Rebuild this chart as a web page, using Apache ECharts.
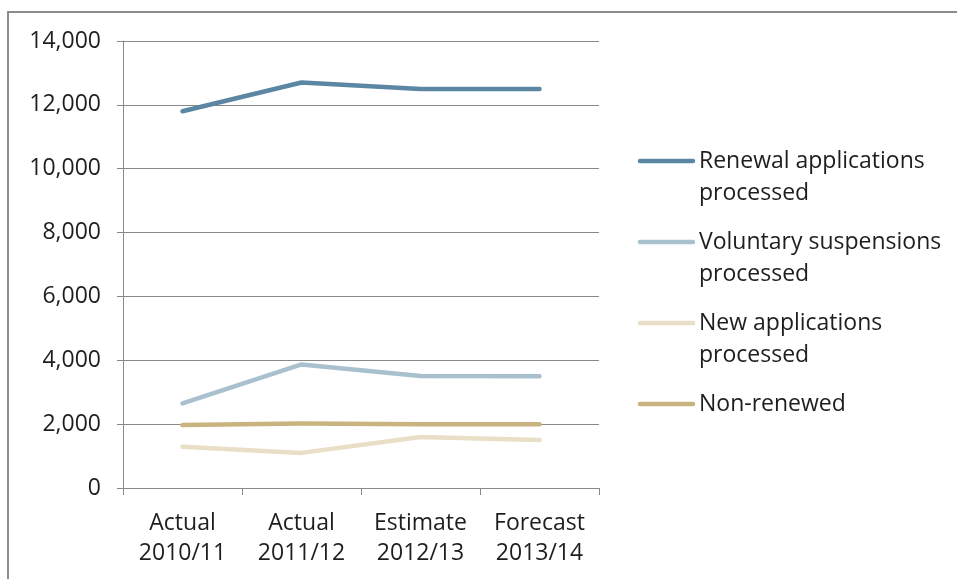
<!DOCTYPE html>
<html>
<head>
<meta charset="utf-8">
<script src="https://cdn.jsdelivr.net/npm/echarts@6/dist/echarts.min.js"></script>
<style>
  html, body { margin: 0; padding: 0; background: #ffffff; }
  #chart { width: 957px; height: 579px; }
</style>
</head>
<body>
<div id="chart"></div>
<script>
// Category labels (two lines each)
const categories = ['Actual\n2010/11', 'Actual\n2011/12', 'Estimate\n2012/13', 'Forecast\n2013/14'];

// Series values
const renewalProcessed   = [11800, 12700, 12500, 12500];
const voluntaryProcessed = [2650, 3870, 3510, 3500];
const newProcessed       = [1290, 1100, 1600, 1500];
const nonRenewed         = [1970, 2020, 2000, 2000];

// Series names as shown in the legend (two lines each)
const seriesNames = [
  ['Renewal applications', 'processed'],
  ['Voluntary suspensions', 'processed'],
  ['New applications', 'processed'],
  ['Non-renewed']
];
const seriesData = [renewalProcessed, voluntaryProcessed, newProcessed, nonRenewed];
const seriesColors = ['#5b87a4', '#a9c1cf', '#e9dec6', '#c9b47f'];

// Y axis range
const yMin = 0, yMax = 14000, yStep = 2000;

const FONT = '"Open Sans", Lato, sans-serif';
const FS = 23;
const TEXT = '#1e1e1e';
const GRID = '#898989';

const chart = echarts.init(document.getElementById('chart'), null, { renderer: 'canvas' });

// Legend drawn as graphic groups so the swatch sits beside the first text line
const legendX = 640, legendTop = 161, itemGap = 81, lineGap = 32;
const legendGraphics = [];
seriesNames.forEach((lines, i) => {
  const y0 = legendTop + i * itemGap;
  legendGraphics.push({
    type: 'line',
    shape: { x1: legendX, y1: y0, x2: legendX + 53, y2: y0 },
    style: { stroke: seriesColors[i], lineWidth: 4.5, lineCap: 'round' }
  });
  lines.forEach((t, j) => {
    legendGraphics.push({
      type: 'text',
      x: legendX + 59,
      y: y0 + j * lineGap,
      style: { text: t, font: FS + 'px ' + FONT, fill: TEXT, textVerticalAlign: 'middle', verticalAlign: 'middle' }
    });
  });
});

// Outer frame (top and left edges of the chart box)
const frame = [
  { type: 'line', shape: { x1: 7, y1: 12, x2: 960, y2: 12 }, style: { stroke: '#8c8c8c', lineWidth: 2 } },
  { type: 'line', shape: { x1: 8, y1: 11, x2: 8, y2: 585 }, style: { stroke: '#8c8c8c', lineWidth: 2 } }
];

chart.setOption({
  backgroundColor: '#ffffff',
  animation: false,
  grid: { left: 123, top: 41, right: 358, bottom: 91, containLabel: false },
  xAxis: {
    type: 'category',
    data: categories,
    boundaryGap: true,
    axisLine: { lineStyle: { color: GRID, width: 1 } },
    axisTick: { show: true, length: 7, lineStyle: { color: GRID } },
    axisLabel: { color: TEXT, fontFamily: FONT, fontSize: FS, lineHeight: 30, margin: 20, interval: 0 }
  },
  yAxis: {
    type: 'value',
    min: yMin, max: yMax, interval: yStep,
    axisLine: { show: true, lineStyle: { color: GRID, width: 1 } },
    axisTick: { show: true, length: 6, lineStyle: { color: GRID } },
    splitLine: { show: true, lineStyle: { color: GRID, width: 1 } },
    axisLabel: {
      color: TEXT, fontFamily: FONT, fontSize: FS, margin: 22,
      formatter: v => v.toLocaleString('en-US')
    }
  },
  series: seriesData.map((d, i) => ({
    name: seriesNames[i].join(' '),
    type: 'line',
    data: d,
    symbol: 'none',
    z: 10 - i,
    lineStyle: { color: seriesColors[i], width: 4.5, cap: 'round', join: 'round' },
    itemStyle: { color: seriesColors[i] }
  })),
  graphic: frame.concat(legendGraphics)
});
</script>
</body>
</html>
